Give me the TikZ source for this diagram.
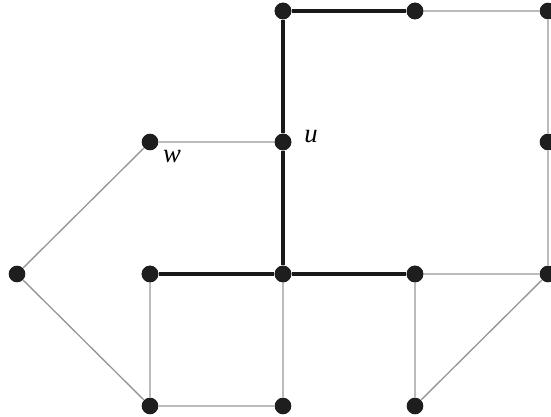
\documentclass[tikz,border=0pt]{standalone}
\usepackage{fontspec}
\setmainfont{Liberation Serif}
\begin{document}
\begin{tikzpicture}[x=0.75pt,y=-0.75pt,
  vtx/.style={circle,fill={rgb,255:red,30;green,30;blue,30},inner sep=0pt,minimum size=12.5pt},
  thin edge/.style={draw={rgb,255:red,150;green,150;blue,150},line width=1pt},
  thick edge/.style={draw={rgb,255:red,25;green,25;blue,25},line width=3pt},
  lbl/.style={font=\fontsize{20}{22}\selectfont\itshape,inner sep=0pt}]
\useasboundingbox (0,0) rectangle (551,417);
\node[vtx] (a1) at (283,11) {};
\node[vtx] (a2) at (415,11) {};
\node[vtx] (a3) at (548,11) {};
\node[vtx] (w) at (150,142) {};
\node[vtx] (u) at (283,142) {};
\node[vtx] (b3) at (548,142) {};
\node[vtx] (c0) at (17,274) {};
\node[vtx] (c1) at (150,274) {};
\node[vtx] (c2) at (283,274) {};
\node[vtx] (c3) at (415,274) {};
\node[vtx] (c4) at (548,274) {};
\node[vtx] (d1) at (150,406) {};
\node[vtx] (d2) at (283,406) {};
\node[vtx] (d3) at (415,406) {};
\path[thin edge] (a2) -- (a3) (a3) -- (b3) (b3) -- (c4)
  (w) -- (u) (w) -- (c0) (c0) -- (d1) (c1) -- (d1) (d1) -- (d2)
  (c2) -- (d2) (c3) -- (c4) (c3) -- (d3) (d3) -- (c4);
\path[thick edge] (a1) -- (a2) (a1) -- (u) (u) -- (c2) (c1) -- (c2) (c2) -- (c3);
\node[vtx] at (a1) {};
\node[vtx] at (a2) {};
\node[vtx] at (u) {};
\node[vtx] at (c1) {};
\node[vtx] at (c2) {};
\node[vtx] at (c3) {};
\node[lbl] (lu) at (311,137) {u};
\node[lbl] (lw) at (172,157) {w};
\end{tikzpicture}
\end{document}
